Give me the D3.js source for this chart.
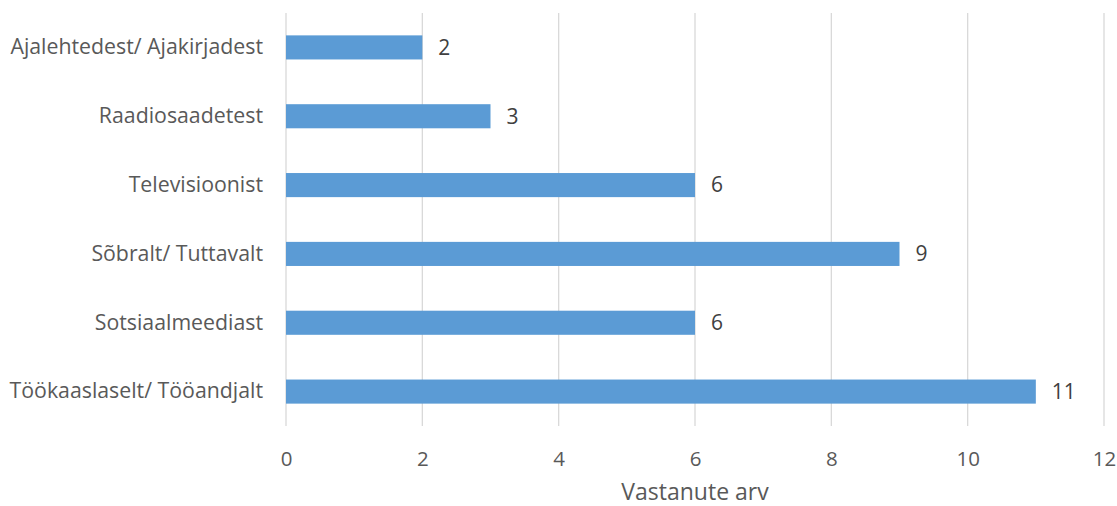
<!DOCTYPE html>
<html>
<head>
<meta charset="utf-8">
<script src="https://cdnjs.cloudflare.com/ajax/libs/d3/7.8.5/d3.min.js"></script>
<style>
  body { margin: 0; background: #fff; }
  svg { display: block; font-family: "Open Sans", sans-serif; }
</style>
</head>
<body>
<div id="chart"></div>
<script>
const categories = [
  'Ajalehtedest/ Ajakirjadest',
  'Raadiosaadetest',
  'Televisioonist',
  'Sõbralt/ Tuttavalt',
  'Sotsiaalmeediast',
  'Töökaaslaselt/ Tööandjalt'
];
const values = [2, 3, 6, 9, 6, 11];
const xTicks = [0, 2, 4, 6, 8, 10, 12];
const xTitle = 'Vastanute arv';

const width = 1117, height = 506;
const margin = { top: 13, right: 13, bottom: 80, left: 286 };

const svg = d3.select('#chart').append('svg')
  .attr('width', width)
  .attr('height', height);

const x = d3.scaleLinear()
  .domain([0, 12])
  .range([margin.left, width - margin.right]);

const y = d3.scaleBand()
  .domain(categories)
  .range([margin.top, height - margin.bottom])
  .paddingInner(0.65)
  .paddingOuter(0.325);

// gridlines
svg.append('g')
  .selectAll('line')
  .data(xTicks)
  .enter().append('line')
  .attr('x1', d => x(d)).attr('x2', d => x(d))
  .attr('y1', margin.top).attr('y2', height - margin.bottom)
  .attr('stroke', '#d9d9d9')
  .attr('stroke-width', 1.3);

// x axis labels
const xAxis = svg.append('g')
  .attr('transform', `translate(0, ${height - margin.bottom})`)
  .call(d3.axisBottom(x).tickValues(xTicks).tickSize(0).tickPadding(25));
xAxis.select('.domain').remove();
xAxis.selectAll('text')
  .style('font-size', '20.5px')
  .style('font-family', '"Open Sans", sans-serif')
  .attr('fill', '#595959');

// y axis labels
const yAxis = svg.append('g')
  .attr('transform', `translate(${margin.left}, 0)`)
  .call(d3.axisLeft(y).tickSize(0).tickPadding(23));
yAxis.select('.domain').remove();
yAxis.selectAll('text')
  .style('font-size', '21.3px')
  .style('font-family', '"Open Sans", sans-serif')
  .attr('fill', '#595959');

// bars
svg.append('g')
  .selectAll('rect')
  .data(values)
  .enter().append('rect')
  .attr('x', x(0))
  .attr('y', (d, i) => y(categories[i]))
  .attr('width', d => x(d) - x(0))
  .attr('height', y.bandwidth())
  .attr('fill', '#5b9bd5');

// data labels
svg.append('g')
  .selectAll('text')
  .data(values)
  .enter().append('text')
  .attr('x', d => x(d) + 16)
  .attr('y', (d, i) => y(categories[i]) + y.bandwidth() / 2)
  .attr('dy', '0.35em')
  .style('font-size', '21px')
  .attr('fill', '#404040')
  .text(d => d);

// axis title
svg.append('text')
  .attr('x', (x(0) + x(12)) / 2)
  .attr('y', 492)
  .attr('dy', '0.35em')
  .attr('text-anchor', 'middle')
  .style('font-size', '23px')
  .attr('fill', '#595959')
  .text(xTitle);
</script>
</body>
</html>
